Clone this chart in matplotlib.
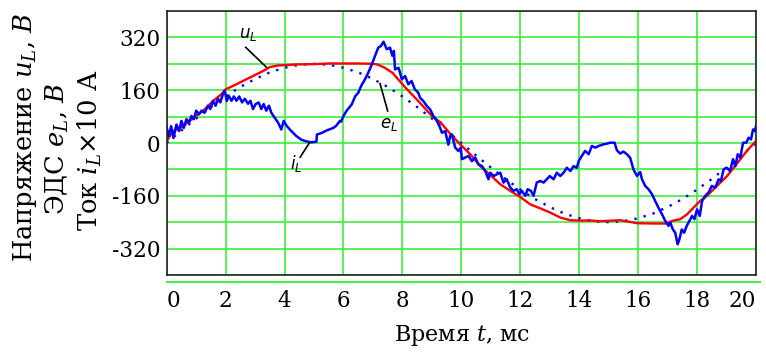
import numpy as np
import matplotlib
matplotlib.use("Agg")
import matplotlib.pyplot as plt

# ---------------- data ----------------
# current i_L (x10 A), noisy blue trace
t_i = [0.00, 0.07, 0.15, 0.23, 0.33, 0.42, 0.50, 0.58, 0.67, 0.76, 0.84, 0.92,
       1.00, 1.10, 1.18, 1.29, 1.40, 1.48, 1.57, 1.66, 1.74, 1.82, 1.91, 1.97,
       2.04, 2.10, 2.20, 2.28, 2.37, 2.46, 2.56, 2.65, 2.76, 2.84, 2.93, 3.02,
       3.12, 3.21, 3.29, 3.38, 3.47, 3.55, 3.66, 3.78, 3.89, 3.97, 4.08, 4.23,
       4.40, 4.57, 4.74, 4.90, 5.08, 5.10, 5.25, 5.43, 5.66, 5.75, 5.88, 5.92,
       6.00, 6.10, 6.28, 6.40, 6.50, 6.60, 6.73, 6.84, 6.96, 7.07, 7.18, 7.27,
       7.36, 7.47, 7.58, 7.66, 7.71, 7.75, 7.87, 7.98, 8.09, 8.20, 8.31, 8.42,
       8.54, 8.60, 8.71, 8.83, 8.94, 9.05, 9.17, 9.28, 9.34, 9.45, 9.56, 9.62,
       9.68, 9.79, 9.90, 9.98, 10.02, 10.13, 10.24, 10.36, 10.47, 10.58, 10.70,
       10.81, 10.92, 10.98, 11.10, 11.20, 11.32, 11.43, 11.54, 11.66, 11.77,
       11.88, 11.97, 12.05, 12.17, 12.25, 12.36, 12.45, 12.56, 12.68, 12.79,
       12.90, 13.00, 13.13, 13.24, 13.36, 13.47, 13.58, 13.70, 13.81, 13.92,
       13.98, 14.09, 14.20, 14.32, 14.43, 14.55, 14.66, 14.83, 14.94, 15.05,
       15.20, 15.28, 15.39, 15.50, 15.62, 15.73, 15.84, 15.96, 16.07, 16.13,
       16.24, 16.35, 16.47, 16.58, 16.69, 16.81, 16.92, 17.03, 17.09, 17.18,
       17.26, 17.34, 17.40, 17.48, 17.56, 17.65, 17.74, 17.83, 17.91, 18.00,
       18.09, 18.17, 18.28, 18.39, 18.50, 18.62, 18.73, 18.81, 18.90, 19.01,
       19.12, 19.22, 19.30, 19.38, 19.47, 19.56, 19.67, 19.75, 19.83, 19.90,
       19.96, 20.00]
i_L = [46, 21, 51, 15, 56, 36, 67, 46, 72, 62, 82, 72,
       98, 87, 98, 92, 113, 103, 128, 113, 134, 123, 149, 158,
       127, 144, 128, 141, 128, 141, 123, 134, 119, 128, 103, 118,
       123, 103, 118, 98, 113, 92, 77, 62, 41, 67, 51, 36,
       21, 10, 5, 2, 4, 26, 30, 38, 46, 52, 67, 65,
       82, 97, 117, 142, 152, 173, 193, 213, 238, 264, 289, 294,
       307, 284, 289, 264, 279, 223, 228, 193, 203, 178, 188, 163,
       152, 137, 127, 112, 102, 82, 67, 46, 31, 36, -5, 21,
       26, -14, -24, -14, -49, -44, -39, -55, -44, -65, -70,
       -85, -110, -90, -100, -95, -90, -120, -110, -135, -145,
       -140, -155, -145, -160, -140, -145, -160, -120, -115, -120,
       -110, -100, -110, -90, -100, -90, -75, -85, -70, -75,
       -55, -39, -24, -34, -9, -14, -9, -4, -2, 1,
       1, -22, -32, -26, -34, -45, -80, -100, -88, -110,
       -130, -140, -155, -176, -196, -216, -236, -251, -241, -262,
       -272, -307, -292, -262, -272, -251, -236, -221, -231, -201,
       -221, -176, -160, -150, -130, -135, -110, -115, -80, -75,
       -85, -49, -70, -34, -44, 1, 1, 16, 11, 41,
       36, 51]

# voltage u_L, red trace
t_u = [0.00, 0.21, 0.51, 0.78, 1.00, 1.29, 1.57, 1.86, 2.00, 2.25, 2.59, 2.93,
       3.27, 3.50, 3.78, 4.02, 4.40, 5.00, 5.50, 6.00, 6.50, 7.00, 7.15, 7.40,
       7.66, 8.10, 8.54, 9.00, 9.30, 9.62, 9.96, 10.30, 10.64, 10.98, 11.32,
       11.66, 12.00, 12.34, 12.68, 13.02, 13.36, 13.70, 14.04, 14.40, 14.72,
       15.40, 15.96, 16.50, 16.98, 17.15, 17.43, 17.66, 17.88, 18.10, 18.34,
       18.56, 18.79, 19.02, 19.24, 19.47, 19.69, 20.00]
u_L = [5, 36, 48, 67, 82, 102, 127, 148, 163, 173, 188, 203,
       218, 230, 235, 236, 238, 239, 241, 241, 241, 240, 238, 228,
       213, 168, 127, 82, 62, 28, -4, -34, -70, -97, -125,
       -145, -164, -186, -198, -211, -226, -234, -235, -235, -237,
       -234, -243, -244, -244, -236, -231, -216, -196, -176, -160,
       -140, -120, -100, -75, -49, -24, 6]

# EMF e_L, dotted blue trace (read every 0.5 ms)
t_e = np.linspace(0, 20, 41)
e_L = [0, 38, 74, 109, 141, 170, 194, 214, 228, 237, 240, 237, 228, 214, 194,
       170, 141, 109, 74, 38, 0, -38, -74, -109, -141, -170, -194, -214, -228,
       -237, -240, -237, -228, -214, -194, -170, -141, -109, -74, -38, 0]

x_ticks = [0, 2, 4, 6, 8, 10, 12, 14, 16, 18, 20]
y_ticks = [-320, -160, 0, 160, 320]
y_grid = [-400, -320, -240, -160, -80, 0, 80, 160, 240, 320, 400]

ylabel_lines = ["Напряжение $u_L$, $\\mathit{В}$",
                "ЭДС $e_L$, $\\mathit{В}$",
                "Ток $i_L$×$\\mathit{10}$ А"]
xlabel_text = "Время $t$, мс"

# annotation: label, line start (t, v), line end (t, v), text centre (t, v)
ann_labels = ["$u_L$", "$e_L$", "$i_L$"]
ann_line_a = [(3.38, 230), (7.24, 180), (4.84, 0)]
ann_line_b = [(2.68, 290), (7.50, 97), (4.53, -43)]
ann_text = [(2.76, 328), (7.53, 57), (4.39, -63)]

# ---------------- styling ----------------
plt.rcParams['font.family'] = ['DejaVu Serif']
plt.rcParams['mathtext.fontset'] = 'dejavuserif'

W, H = 766, 352
fig = plt.figure(figsize=(W / 100, H / 100), dpi=100)
L, R, T, B = 166.7, 756, 11, 275
ax = fig.add_axes([L / W, 1 - B / H, (R - L) / W, (B - T) / H])

GREEN = '#3ded3d'
ax.set_xlim(0, 20)
ax.set_ylim(-400, 400)
for g in y_grid:
    ax.axhline(g, color=GREEN, lw=1.2, zorder=1)
for g in x_ticks:
    ax.axvline(g, color=GREEN, lw=1.2, zorder=1)

ax.plot(t_e, e_L, color='#0000ff', lw=1.7, linestyle=(0, (1, 3)), zorder=3)
ax.plot(t_u, u_L, color='#ff0000', lw=1.7, zorder=4)
ax.plot(t_i, i_L, color='#0000ff', lw=1.8, zorder=5)

for lab, a, b, c in zip(ann_labels, ann_line_a, ann_line_b, ann_text):
    ax.plot([a[0], b[0]], [a[1], b[1]], color='black', lw=1.2, zorder=6)
    ax.text(c[0], c[1], lab, ha='center', va='center', fontsize=12,
            math_fontfamily='dejavusans', zorder=7)

for s in ax.spines.values():
    s.set_color('#222222')
    s.set_linewidth(1.2)
    s.set_zorder(8)

ax.set_xticks(x_ticks)
ax.set_xticklabels([str(v) for v in x_ticks])
ax.set_yticks(y_ticks)
ax.set_yticklabels([str(v) for v in y_ticks])
ax.tick_params(axis='both', length=0, labelsize=15.5)
ax.tick_params(axis='x', pad=11)
ax.tick_params(axis='y', pad=4.5)
xl = ax.get_xticklabels()
xl[0].set_ha('left')
xl[-1].set_ha('right')

# green line below the plot frame
ax.plot([0, 1.007], [-0.0265, -0.0265], transform=ax.transAxes,
        color=GREEN, lw=1.4, clip_on=False)

# y label: three rotated lines
ylab_x = [25, 57, 90]
ylab_y = [137, 149, 150]
for txt, xx, yy in zip(ylabel_lines, ylab_x, ylab_y):
    fig.text(xx / W, 1 - yy / H, txt, rotation=90, ha='center', va='center',
             fontsize=18.5)

fig.text(462 / W, 1 - 336 / H, xlabel_text, ha='center', va='center', fontsize=16)

fig.savefig('out.png', dpi=100)
